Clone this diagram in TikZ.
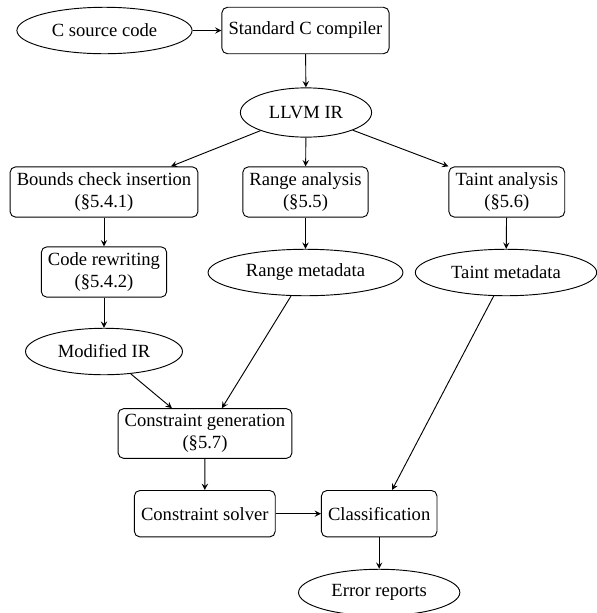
\documentclass[tikz,border=0pt]{standalone}
\usepackage{fontspec}
\setmainfont{Liberation Serif}
\usetikzlibrary{arrows,shapes,positioning}

\begin{document}
\begin{tikzpicture}[x=0.538pt,y=-0.538pt,>=stealth,line width=0.5pt,
    stage/.style={draw,rounded corners=3pt,align=center,inner xsep=3.6pt,inner ysep=3pt,minimum height=25pt},
    artifact/.style={draw,ellipse,inner xsep=5pt,inner ysep=0pt,minimum height=25pt}]
    \useasboundingbox (0,0) rectangle (596,613);
    % front end
    \node[artifact] (src) at (104.5,30.5) {C source code};
    \node[stage] (cc) at (305.5,30.5) {Standard C compiler};
    \node[artifact,minimum height=26.5pt] (llvm) at (306,112.5) {LLVM IR};
    % analyses
    \node[stage] (bounds) at (104,192) {Bounds check insertion\\(\S5.4.1)};
    \node[stage] (range) at (305.5,192) {Range analysis\\(\S5.5)};
    \node[stage] (taint) at (506.8,192) {Taint analysis\\(\S5.6)};
    \node[stage] (rewrite) at (104,272) {Code rewriting\\(\S5.4.2)};
    \node[artifact] (rmeta) at (305.5,272.5) {Range metadata};
    \node[artifact] (tmeta) at (506,272.5) {Taint metadata};
    \node[artifact] (modir) at (104,351.5) {Modified IR};
    % back end
    \node[stage] (cgen) at (205,433.5) {Constraint generation\\(\S5.7)};
    \node[stage] (solver) at (204.8,513.7) {Constraint solver};
    \node[stage] (classify) at (379.2,513.7) {Classification};
    \node[artifact] (errs) at (379.2,592.5) {Error reports};

    \draw[->] (src) -- (cc);
    \draw[->] (cc) -- (llvm);
    \draw[->] (llvm) -- ([xshift=36pt]bounds.north);
    \draw[->] (llvm) -- (range);
    \draw[->] (llvm) -- (taint.north west);
    \draw[->] (bounds) -- (rewrite);
    \draw[->] (rewrite) -- (modir);
    \draw[->] (range) -- (rmeta);
    \draw[->] (taint) -- (tmeta);
    \draw[->] (modir) -- ([xshift=-17.8pt]cgen.north);
    \draw[->] (rmeta) -- ([xshift=9.1pt]cgen.north);
    \draw[->] (tmeta) -- ([xshift=6.9pt]classify.north);
    \draw[->] (cgen) -- (solver);
    \draw[->] (solver) -- (classify);
    \draw[->] (classify) -- (errs);
\end{tikzpicture}
\end{document}
